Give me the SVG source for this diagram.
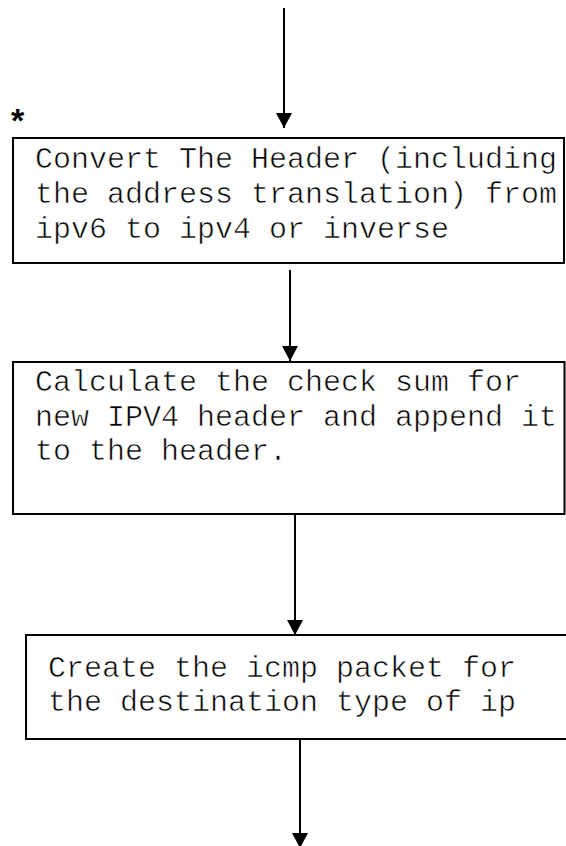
<svg xmlns="http://www.w3.org/2000/svg" width="566" height="846" viewBox="0 0 566 846">
  <style>
    .box { fill: #ffffff; stroke: #000000; stroke-width: 2; }
    .lbl { font-family: "Liberation Mono", "Courier New", monospace; font-size: 30px; fill: #000000; stroke: #ffffff; stroke-width: 0.6; }
    .wire { stroke: #000000; stroke-width: 2; fill: none; }
    .mark { font-family: "Liberation Sans", Arial, sans-serif; font-size: 34px; font-weight: bold; fill: #000000; }
  </style>
  <defs>
    <marker id="head" markerWidth="7.5" markerHeight="8" refX="7.5" refY="4" orient="auto" markerUnits="strokeWidth">
      <path d="M0,0 L7.5,4 L0,8 Z" fill="#000000"/>
    </marker>
  </defs>
  <rect width="566" height="846" fill="#ffffff"/>

  <g id="connectors">
    <line class="wire" x1="284" y1="8" x2="284" y2="128" marker-end="url(#head)"/>
    <line class="wire" x1="290" y1="270" x2="290" y2="361" marker-end="url(#head)"/>
    <line class="wire" x1="295" y1="515" x2="295" y2="635" marker-end="url(#head)"/>
    <line class="wire" x1="300" y1="739" x2="300" y2="848" marker-end="url(#head)"/>
  </g>

  <text class="mark" x="11" y="132">*</text>

  <g id="convert-header">
    <rect class="box" x="13" y="138" width="551" height="125"/>
    <text class="lbl" x="35" y="168">Convert The Header (including</text>
    <text class="lbl" x="35" y="203">the address translation) from</text>
    <text class="lbl" x="35" y="238">ipv6 to ipv4 or inverse</text>
  </g>

  <g id="checksum">
    <rect class="box" x="13" y="362" width="551.5" height="152"/>
    <text class="lbl" x="35" y="391">Calculate the check sum for</text>
    <text class="lbl" x="35" y="426">new IPV4 header and append it</text>
    <text class="lbl" x="35" y="460">to the header.</text>
  </g>

  <g id="icmp-packet">
    <rect class="box" x="26" y="635" width="547" height="104"/>
    <text class="lbl" x="48" y="677">Create the icmp packet for</text>
    <text class="lbl" x="48" y="711">the destination type of ip</text>
  </g>
</svg>
